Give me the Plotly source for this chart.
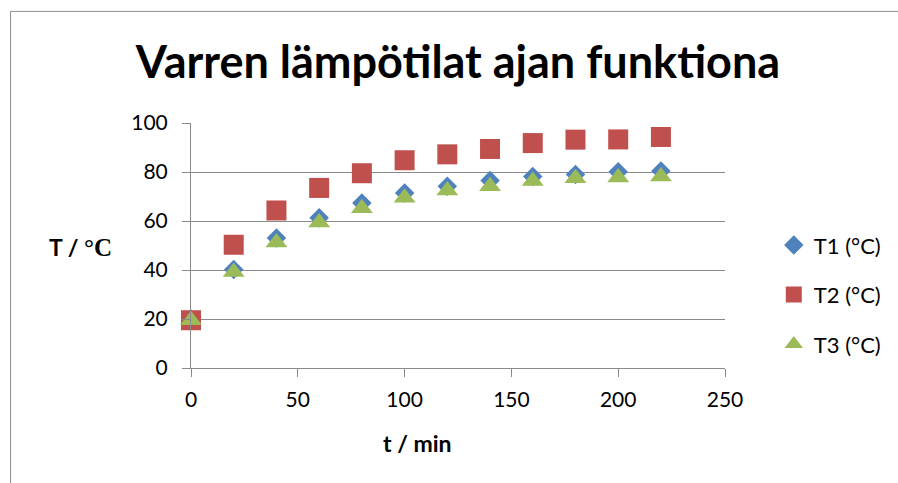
import plotly.graph_objects as go

t_min = [0, 20, 40, 60, 80, 100, 120, 140, 160, 180, 200, 220]
T1 = [20.0, 40.2, 53.1, 61.3, 67.3, 71.4, 74.2, 76.5, 78.2, 79.0, 80.1, 80.4]
T2 = [19.5, 50.3, 64.3, 73.5, 79.5, 84.8, 87.2, 89.4, 91.8, 93.2, 93.3, 94.3]
T3 = [19.5, 39.2, 51.2, 59.4, 65.2, 69.5, 72.4, 74.2, 76.3, 77.4, 77.8, 78.2]
series_names = ["T1 (°C)", "T2 (°C)", "T3 (°C)"]
x_ticks = [0, 50, 100, 150, 200, 250]
y_ticks = [0, 20, 40, 60, 80, 100]

W, H = 898, 483
L, R, T, B = 190.7, 727.0, 123.0, 367.7

FONT = "Lato"
GRID = "#8a8a8a"

fig = go.Figure()
styles = [
    dict(symbol="diamond", color="#4F81BD", size=15),
    dict(symbol="square", color="#C0504D", size=20),
    dict(symbol="triangle-up", color="#9BBB59", size=19),
]
for name, ys, st, g in zip(series_names, [T1, T2, T3], styles, ["a", "b", "c"]):
    fig.add_trace(go.Scatter(
        x=t_min, y=ys, mode="markers", name=name, legendgroup=g,
        cliponaxis=False,
        marker=dict(symbol=st["symbol"], color=st["color"], size=st["size"],
                    line=dict(width=0)),
    ))

def px_x(p):
    return (p - L) / (R - L)

def px_y(p):
    return (B - p) / (B - T)

fig.update_layout(
    width=W, height=H,
    margin=dict(l=L, r=W - R, t=T, b=H - B),
    paper_bgcolor="white", plot_bgcolor="white",
    font=dict(family=FONT, size=21, color="black"),
    showlegend=True,
    legend=dict(
        x=px_x(776), y=px_y(224), xanchor="left", yanchor="top",
        xref="paper", yref="paper",
        font=dict(family=FONT, size=22, color="black"),
        tracegroupgap=18, itemsizing="trace", bgcolor="rgba(0,0,0,0)",
    ),
    title=dict(
        text="<b>Varren lämpötilat ajan funktiona</b>",
        font=dict(family=FONT, size=45, color="black"),
        x=0.5, xref="paper", xanchor="center",
        y=1 - 62 / H, yref="container", yanchor="middle",
    ),
    xaxis=dict(
        range=[0, 250], tickvals=x_ticks, ticks="outside", ticklen=8,
        tickcolor=GRID, showline=True, linecolor=GRID, linewidth=1,
        showgrid=False, zeroline=False, ticklabelstandoff=5,
        tickfont=dict(family=FONT, size=21, color="black"),
    ),
    yaxis=dict(
        range=[0, 100], tickvals=y_ticks, ticks="outside", ticklen=8,
        tickcolor=GRID, showline=True, linecolor=GRID, linewidth=1,
        showgrid=True, gridcolor=GRID, gridwidth=1, zeroline=False,
        ticklabelstandoff=10,
        tickfont=dict(family=FONT, size=21, color="black"),
    ),
    annotations=[
        dict(text="<b>t / min</b>", x=px_x(418), y=px_y(443), xref="paper", yref="paper",
             xanchor="center", yanchor="middle", showarrow=False,
             font=dict(family=FONT, size=23, color="black")),
        dict(text="<b>T / <span style='font-family:Liberation Serif;font-size:25px'>°C</span></b>",
             x=px_x(80), y=px_y(247), xref="paper", yref="paper",
             xanchor="center", yanchor="middle", showarrow=False,
             font=dict(family=FONT, size=23, color="black")),
    ],
    shapes=[
        dict(type="rect", xref="paper", yref="paper",
             x0=px_x(9.5), x1=px_x(910), y0=px_y(500), y1=px_y(11.5),
             line=dict(color="#8c8c8c", width=1), fillcolor="rgba(0,0,0,0)",
             layer="below"),
    ],
)

fig.write_html("out.html")
